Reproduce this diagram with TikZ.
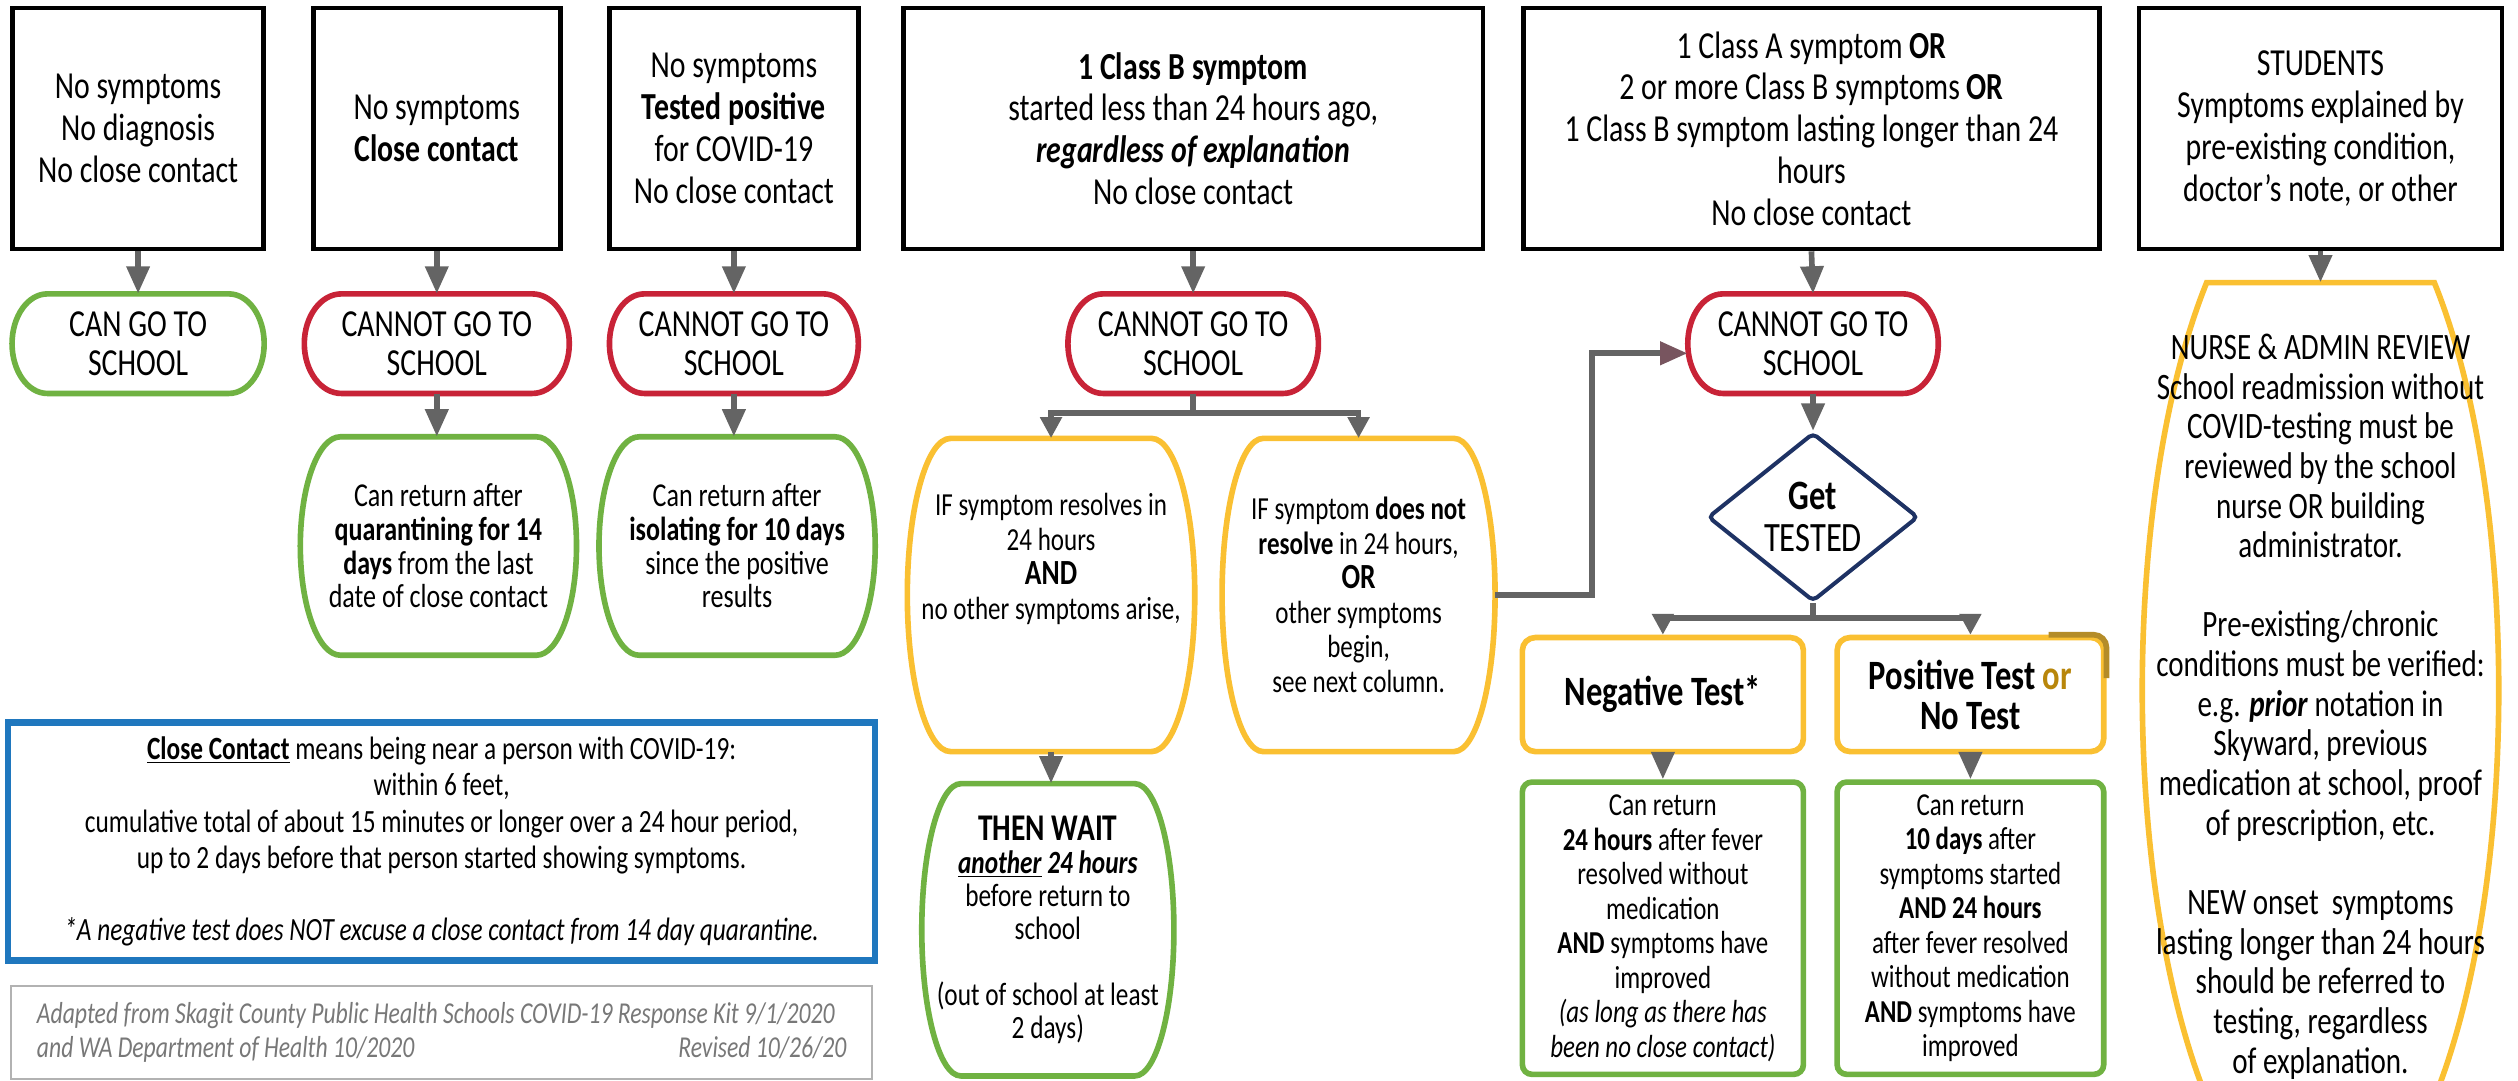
\documentclass[tikz,border=0pt]{standalone}
\usepackage{fontspec}
\setmainfont[FakeStretch=0.78]{Carlito}
\usetikzlibrary{arrows.meta,shapes.geometric,calc}
\definecolor{cgreen}{RGB}{112,178,66}
\definecolor{cred}{RGB}{200,35,55}
\definecolor{cyellow}{RGB}{250,192,50}
\definecolor{cblue}{RGB}{31,119,190}
\definecolor{cnavy}{RGB}{30,50,100}
\definecolor{agray}{RGB}{100,100,100}
\definecolor{amauve}{RGB}{120,85,95}
\definecolor{cgold}{RGB}{184,134,11}
\definecolor{cdkgold}{RGB}{180,140,40}
\definecolor{tgray}{RGB}{120,120,120}
\newcommand\fs[2]{\fontsize{#1}{#2}\selectfont}
% rounded barrel outline: cx cy hw hh flat-fraction style
\newcommand\barrel[6]{\draw[#6] ({#1-#5*#3},{#2-#4}) -- ({#1+#5*#3},{#2-#4})
 .. controls ({#1+(#5+0.552*(1-#5))*#3},{#2-#4}) and ({#1+#3},{#2-0.552*#4}) .. ({#1+#3},{#2})
 .. controls ({#1+#3},{#2+0.552*#4}) and ({#1+(#5+0.552*(1-#5))*#3},{#2+#4}) .. ({#1+#5*#3},{#2+#4})
 -- ({#1-#5*#3},{#2+#4})
 .. controls ({#1-(#5+0.552*(1-#5))*#3},{#2+#4}) and ({#1-#3},{#2+0.552*#4}) .. ({#1-#3},{#2})
 .. controls ({#1-#3},{#2-0.552*#4}) and ({#1-(#5+0.552*(1-#5))*#3},{#2-#4}) .. cycle;}
\begin{document}
\begin{tikzpicture}[x=1pt,y=-1pt,
  topbox/.style={draw=black, line width=3pt, fill=white, align=center, inner sep=0pt, font=\fs{23.8}{26}},
  shapebox/.style={align=center, inner sep=0pt},
  pilltext/.style={shapebox, font=\fs{23.8}{24}},
  arr/.style={draw=agray, line width=3.5pt, -{Triangle[length=17pt,width=14pt]}},
  brarr/.style={draw=agray, line width=3.5pt, -{Triangle[length=13pt,width=13pt]}},
  conn/.style={draw=agray, line width=3.5pt},
  pillline/.style={line width=3.5pt},
  greenbox/.style={draw=cgreen, line width=3.5pt, rounded corners=6pt, align=center, inner sep=0pt, font=\fs{19.9}{21.5}},
  yelbox/.style={draw=cyellow, line width=3.5pt, rounded corners=8pt, align=center, inner sep=0pt, font=\fs{26}{25}}]
\useasboundingbox (0,0) rectangle (1568,673);
\fill[white] (0,0) rectangle (1568,673);
\clip (0,0) rectangle (1568,673);

% ---------- top boxes
\node[topbox, minimum width=156, minimum height=150] (b1) at (86,80) {No symptoms\\No diagnosis\\No close contact};
\node[topbox, minimum width=154, minimum height=150] (b2) at (272,80) {No symptoms\\\textbf{Close contact}};
\node[topbox, minimum width=155, minimum height=150] (b3) at (457,80) {No symptoms\\\textbf{Tested positive}\\for COVID-19\\No close contact};
\node[topbox, minimum width=361, minimum height=150] (b4) at (743,80) {\textbf{1 Class B symptom}\\started less than 24 hours ago,\\\textbf{\textit{regardless of explanation}}\\No close contact};
\node[topbox, minimum width=359, minimum height=150] (b5) at (1128,80) {1 Class A symptom \textbf{OR}\\2 or more Class B symptoms \textbf{OR}\\1 Class B symptom lasting longer than 24\\hours\\No close contact};
\node[topbox, minimum width=226, minimum height=150] (b6) at (1445,80) {STUDENTS\\Symptoms explained by\\pre-existing condition,\\doctor's note, or other};

% ---------- pills
\node[pilltext, minimum width=157, minimum height=62] (p1) at (86,214) {CAN GO TO\\SCHOOL};
\barrel{86}{214}{78.5}{31}{0.72}{cgreen, pillline}
\node[pilltext, minimum width=165, minimum height=62] (p2) at (272,214) {CANNOT GO TO\\SCHOOL};
\barrel{272}{214}{82.5}{31}{0.72}{cred, pillline}
\node[pilltext, minimum width=155, minimum height=62] (p3) at (457,214) {CANNOT GO TO\\SCHOOL};
\barrel{457}{214}{77.5}{31}{0.72}{cred, pillline}
\node[pilltext, minimum width=156, minimum height=62] (p4) at (743,214) {CANNOT GO TO\\SCHOOL};
\barrel{743}{214}{78}{31}{0.72}{cred, pillline}
\node[pilltext, minimum width=156, minimum height=62] (p5) at (1129,214) {CANNOT GO TO\\SCHOOL};
\barrel{1129}{214}{78}{31}{0.72}{cred, pillline}

\draw[arr] (b1.south) -- (p1.north);
\draw[arr] (b2.south) -- (p2.north);
\draw[arr] (b3.south) -- (p3.north);
\draw[arr] (b4.south) -- (p4.north);
\draw[arr] (b5.south) -- (p5.north);

% ---------- column 2/3 barrels
\node[shapebox, minimum width=172, minimum height=136, font=\fs{20.8}{21}] (c2) at (273,340) {Can return after\\\textbf{quarantining for 14}\\\textbf{days} from the last\\date of close contact};
\barrel{273}{340}{86}{68}{0.71}{cgreen, pillline}
\node[shapebox, minimum width=172, minimum height=136, font=\fs{20.8}{21}] (c3) at (459,340) {Can return after\\\textbf{isolating for 10 days}\\since the positive\\results};
\barrel{459}{340}{86}{68}{0.71}{cgreen, pillline}
\draw[arr] (p2.south) -- (p2.south |- c2.north);
\draw[arr] (p3.south) -- (p3.south |- c3.north);

% ---------- column 4
\node[shapebox, minimum width=179, minimum height=195] (y1) at (654.5,370.5) {};
\barrel{654.5}{370.5}{89.5}{97.5}{0.70}{cyellow, pillline}
\node[shapebox, font=\fs{20}{21.5}] (y1t) at (654.5,348) {IF symptom resolves in\\24 hours\\{\fs{22}{22}\textbf{AND}}\\no other symptoms arise,};
\node[shapebox, minimum width=170, minimum height=195, font=\fs{20}{21.5}] (y2) at (846,370.5) {IF symptom \textbf{does not}\\\textbf{resolve} in 24 hours,\\{\fs{22}{22}\textbf{OR}}\\other symptoms\\begin,\\see next column.};
\barrel{846}{370.5}{85}{97.5}{0.70}{cyellow, pillline}
\draw[conn] (p4.south) -- ++(0,12) coordinate (br4);
\draw[brarr] (br4) -| (y1.north);
\draw[brarr] (br4) -| (y2.north);

\node[shapebox, minimum width=157, minimum height=182, font=\fs{20.2}{20.5}] (tw) at (652.5,579) {{\fs{23.5}{22}\textbf{THEN WAIT}}\\\textbf{\textit{\underline{another}} \textit{24 hours}}\\before return to\\school\\[20.5pt](out of school at least\\2 days)};
\barrel{652.5}{579}{78.5}{91}{0.69}{cgreen, pillline}
\draw[arr] (y1.south) -- (y1.south |- tw.north);

% ---------- column 5
\draw[conn, -{Triangle[length=17pt,width=14pt,color=amauve]}] (y2.east) -- ++(60,0) |- ([yshift=-6pt]p5.west);
\node[diamond, draw=cnavy, line width=2.5pt, minimum width=131, minimum height=105, aspect=1.25, inner sep=0pt, align=center, font=\fs{26}{26}, rounded corners=3pt] (dia) at (1129,322) {\textbf{Get}\\TESTED};
\draw[arr] (p5.south) -- (dia.north);
\node[yelbox, minimum width=175, minimum height=71] (neg) at (1035.5,432.5) {\textbf{Negative Test*}};
\node[yelbox, minimum width=166, minimum height=71] (pos) at (1227,432.5) {\textbf{Positive Test \textcolor{cgold}{or}}\\\textbf{No Test}};
\draw[cdkgold, line width=3.5pt, rounded corners=8pt] ($(pos.north east)+(-36,0)$) -| ($(pos.north east)+(0,27)$);
\draw[conn] (dia.south) -- ++(0,9) coordinate (br5);
\draw[brarr] (br5) -| (neg.north);
\draw[brarr] (br5) -| (pos.north);
\node[greenbox, minimum width=175, minimum height=182] (ng) at (1035.5,578) {Can return\\\textbf{24 hours} after fever\\resolved without\\medication\\\textbf{AND} symptoms have\\improved\\\textit{(as long as there has}\\\textit{been no close contact)}};
\node[greenbox, minimum width=166, minimum height=182] (pg) at (1227,578) {Can return\\\textbf{10 days} after\\symptoms started\\\textbf{AND 24 hours}\\after fever resolved\\without medication\\\textbf{AND} symptoms have\\improved};
\draw[arr] (neg.south) -- (ng.north);
\draw[arr] (pos.south) -- (pg.north);

% ---------- column 6
\node[shapebox, minimum width=222, minimum height=497] (nurse) at (1445,424.5) {};
\draw[cyellow, pillline] (1515.9,176) arc[start angle=-50.3, end angle=230.3, x radius=111, y radius=330] -- cycle;
\node[shapebox, font=\fs{23.2}{24.7}] (nurset) at (1445,440) {NURSE \& ADMIN REVIEW\\School readmission without\\COVID-testing must be\\reviewed by the school\\nurse OR building\\administrator.\\[24.7pt]Pre-existing/chronic\\conditions must be verified:\\e.g. \textbf{\textit{prior}} notation in\\Skyward, previous\\medication at school, proof\\of prescription, etc.\\[24.7pt]NEW onset~~symptoms\\lasting longer than 24 hours\\should be referred to\\testing, regardless\\of explanation.};
\draw[arr] (b6.south) -- (b6.south |- nurse.north);

% ---------- definitions box
\node[draw=cblue, line width=4pt, minimum width=540, minimum height=148, inner sep=0pt, align=center, font=\fs{20.2}{22.5}] (cc) at (275,524) {\underline{\textbf{Close Contact}} means being near a person with COVID-19:\\within 6 feet,\\cumulative total of about 15 minutes or longer over a 24 hour period,\\up to 2 days before that person started showing symptoms.\\[22.5pt]\textit{*A negative test does NOT excuse a close contact from 14 day quarantine.}};
\node[draw=gray!60, line width=1.2pt, minimum width=536, minimum height=58, inner sep=0pt, font=\fs{18.9}{21}, text=tgray] (src) at (275,643) {\parbox{504pt}{\itshape\noindent Adapted from Skagit County Public Health Schools COVID-19 Response Kit 9/1/2020\\and WA Department of Health 10/2020\hfill Revised 10/26/20}};
\end{tikzpicture}
\end{document}
